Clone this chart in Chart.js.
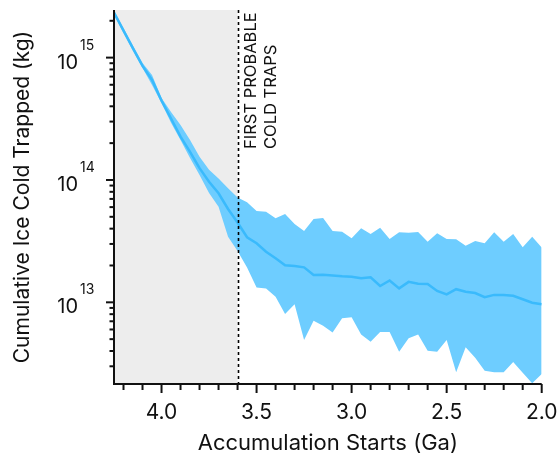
<!DOCTYPE html>
<html>
<head>
<meta charset="utf-8">
<script src="https://cdn.jsdelivr.net/npm/chart.js@4"></script>
<style>
  html, body { margin: 0; padding: 0; background: #ffffff; }
  #wrap { width: 560px; height: 456px; }
</style>
</head>
<body>
<div id="wrap"><canvas id="iceChart" width="560" height="456"></canvas></div>
<script>
// accumulation start age (Ga), one point every 0.05 Ga
const ages = [4.25, 4.20, 4.15, 4.10, 4.05, 4.00, 3.95, 3.90, 3.85, 3.80, 3.75, 3.70, 3.65,
  3.60, 3.55, 3.50, 3.45, 3.40, 3.35, 3.30, 3.25, 3.20, 3.15, 3.10, 3.05, 3.00,
  2.95, 2.90, 2.85, 2.80, 2.75, 2.70, 2.65, 2.60, 2.55, 2.50, 2.45, 2.40, 2.35,
  2.30, 2.25, 2.20, 2.15, 2.10, 2.05, 2.00];

// cumulative ice cold trapped (kg)
const upperIce = [2.42e15, 1.75e15, 1.25e15, 9.05e14, 7.22e14, 4.68e14, 3.60e14, 2.82e14, 2.12e14, 1.55e14, 1.21e14, 1.03e14, 8.55e13,
  7.19e13, 6.57e13, 5.58e13, 5.51e13, 4.86e13, 5.27e13, 4.37e13, 3.83e13, 4.80e13, 4.89e13, 3.83e13, 3.78e13, 3.34e13,
  4.03e13, 3.62e13, 4.07e13, 3.29e13, 3.74e13, 3.71e13, 3.76e13, 3.13e13, 3.67e13, 3.29e13, 3.27e13, 2.90e13, 3.17e13,
  3.04e13, 3.74e13, 3.13e13, 3.62e13, 2.82e13, 3.44e13, 2.80e13];
const medianIce = [2.33e15, 1.66e15, 1.19e15, 8.55e14, 6.57e14, 4.45e14, 3.18e14, 2.26e14, 1.70e14, 1.25e14, 9.68e13, 7.78e13, 5.79e13,
  4.49e13, 3.40e13, 3.04e13, 2.59e13, 2.29e13, 2.01e13, 1.98e13, 1.93e13, 1.67e13, 1.68e13, 1.66e13, 1.63e13, 1.62e13,
  1.57e13, 1.60e13, 1.36e13, 1.51e13, 1.30e13, 1.47e13, 1.42e13, 1.41e13, 1.24e13, 1.16e13, 1.28e13, 1.22e13, 1.19e13,
  1.10e13, 1.15e13, 1.15e13, 1.13e13, 1.06e13, 9.92e12, 9.63e12];
const lowerIce = [2.23e15, 1.59e15, 1.13e15, 8.24e14, 5.98e14, 4.26e14, 2.93e14, 2.12e14, 1.51e14, 1.10e14, 7.83e13, 6.05e13, 3.44e13,
  2.63e13, 1.93e13, 1.32e13, 1.30e13, 1.11e13, 8.02e12, 9.63e12, 4.92e12, 7.07e12, 6.44e12, 5.68e12, 7.40e12, 7.54e12,
  5.47e12, 4.76e12, 5.72e12, 5.72e12, 3.95e12, 5.08e12, 5.47e12, 4.02e12, 3.95e12, 4.92e12, 2.68e12, 4.29e12, 3.52e12,
  2.76e12, 2.68e12, 2.68e12, 3.25e12, 2.66e12, 2.18e12, 2.59e12];

const xTickValues = [4.0, 3.5, 3.0, 2.5, 2.0];
const xTickLabels = ["4.0", "3.5", "3.0", "2.5", "2.0"];
const yTickExponents = [13, 14, 15];
const coldTrapAge = 3.6; // first probable cold traps
const ageRange = [2.0, 4.25];
const iceRange = [2.15e12, 2.45e15];

const FONT = "Inter, Roboto, 'Liberation Sans', sans-serif";

function toPoints(vals) {
  return ages.map((a, i) => ({ x: a, y: vals[i] }));
}

// gray shading, dotted line, axes, ticks and labels
const decorPlugin = {
  id: "decor",
  beforeDatasetsDraw(chart) {
    const { ctx, chartArea, scales } = chart;
    const xLine = scales.x.getPixelForValue(coldTrapAge);
    ctx.save();
    ctx.fillStyle = "#ededed";
    ctx.fillRect(chartArea.left, chartArea.top, xLine - chartArea.left, chartArea.bottom - chartArea.top);
    ctx.restore();
  },
  afterDatasetsDraw(chart) {
    const { ctx, chartArea, scales } = chart;
    const xs = scales.x;
    const ys = scales.y;
    const L = chartArea.left, R = chartArea.right, T = chartArea.top, B = chartArea.bottom;

    ctx.save();
    // dotted line
    const xLine = Math.round(xs.getPixelForValue(coldTrapAge)) + 0.5;
    ctx.strokeStyle = "#000";
    ctx.lineWidth = 1.6;
    ctx.setLineDash([3, 3]);
    ctx.beginPath();
    ctx.moveTo(xLine, T);
    ctx.lineTo(xLine, B);
    ctx.stroke();
    ctx.setLineDash([]);

    // axes
    ctx.strokeStyle = "#111";
    ctx.lineWidth = 2;
    ctx.beginPath();
    ctx.moveTo(L, T);
    ctx.lineTo(L, B);
    ctx.lineTo(R, B);
    ctx.stroke();

    // x ticks (every 0.1 Ga, major every 0.5)
    for (let k = 20; k <= 42; k++) {
      const px = xs.getPixelForValue(k / 10);
      const len = k % 5 === 0 ? 9 : 6;
      ctx.beginPath();
      ctx.moveTo(px, B);
      ctx.lineTo(px, B + len);
      ctx.stroke();
    }
    // y ticks (log minor)
    for (let e = 12; e <= 15; e++) {
      for (let m = 1; m <= 9; m++) {
        const v = m * Math.pow(10, e);
        if (v < iceRange[0] || v > iceRange[1]) continue;
        const py = ys.getPixelForValue(v);
        const len = m === 1 ? 8 : 4.5;
        ctx.beginPath();
        ctx.moveTo(L, py);
        ctx.lineTo(L - len, py);
        ctx.stroke();
      }
    }

    // x tick labels
    ctx.fillStyle = "#111";
    ctx.font = "21px " + FONT;
    ctx.textAlign = "center";
    ctx.textBaseline = "middle";
    xTickValues.forEach((v, i) => {
      ctx.fillText(xTickLabels[i], xs.getPixelForValue(v), 413);
    });

    // y tick labels 10^n
    yTickExponents.forEach((e) => {
      const py = ys.getPixelForValue(Math.pow(10, e));
      ctx.font = "20px " + FONT;
      ctx.textAlign = "right";
      ctx.textBaseline = "alphabetic";
      ctx.fillText("10", 78, py + 11);
      ctx.font = "14px " + FONT;
      ctx.textAlign = "left";
      ctx.fillText(String(e), 80, py - 8);
    });

    // axis titles
    ctx.font = "22px " + FONT;
    ctx.textAlign = "center";
    ctx.textBaseline = "alphabetic";
    ctx.fillText("Accumulation Starts (Ga)", (L + R) / 2, 450);

    ctx.save();
    ctx.font = "21px " + FONT;
    ctx.translate(23, (T + B) / 2);
    ctx.rotate(-Math.PI / 2);
    ctx.textBaseline = "middle";
    ctx.fillText("Cumulative Ice Cold Trapped (kg)", 0, 0);
    ctx.restore();

    // annotation
    ctx.save();
    ctx.font = "16.5px " + FONT;
    ctx.textAlign = "left";
    ctx.textBaseline = "middle";
    ctx.translate(xLine + 12.5, 149);
    ctx.rotate(-Math.PI / 2);
    ctx.fillText("FIRST PROBABLE", 0, 0);
    ctx.fillText("COLD TRAPS", 0, 20);
    ctx.restore();

    ctx.restore();
  }
};

const canvas = document.getElementById("iceChart");
new Chart(canvas, {
  type: "line",
  data: {
    datasets: [
      {
        label: "lower",
        data: toPoints(lowerIce),
        borderColor: "transparent",
        borderWidth: 0,
        pointRadius: 0,
        fill: false,
        order: 2,
      },
      {
        label: "upper",
        data: toPoints(upperIce),
        borderColor: "transparent",
        borderWidth: 0,
        pointRadius: 0,
        backgroundColor: "rgb(110, 205, 255)",
        fill: "-1",
        order: 1,
      },
      {
        label: "median",
        data: toPoints(medianIce),
        borderColor: "rgb(58, 186, 252)",
        borderWidth: 2.5,
        pointRadius: 0,
        fill: false,
        order: 0,
      },
    ],
  },
  options: {
    responsive: false,
    animation: false,
    devicePixelRatio: 1,
    layout: { padding: { top: 10, right: 18.3, left: 0, bottom: 0 } },
    plugins: {
      legend: { display: false },
      tooltip: { enabled: false },
    },
    elements: { line: { tension: 0 } },
    scales: {
      x: {
        type: "linear",
        reverse: true,
        min: ageRange[0],
        max: ageRange[1],
        grid: { display: false },
        border: { display: false },
        ticks: { display: false },
        afterFit: (s) => { s.height = 72; },
      },
      y: {
        type: "logarithmic",
        min: iceRange[0],
        max: iceRange[1],
        grid: { display: false },
        border: { display: false },
        ticks: { display: false },
        afterFit: (s) => { s.width = 114; },
      },
    },
  },
  plugins: [decorPlugin],
});
</script>
</body>
</html>
